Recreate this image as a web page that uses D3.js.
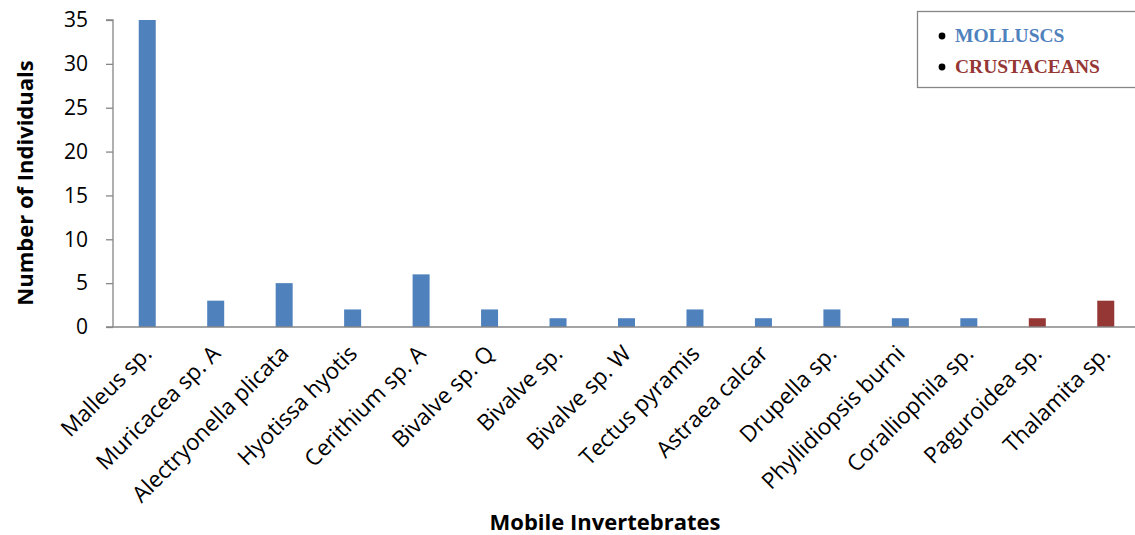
<!DOCTYPE html>
<html><head><meta charset="utf-8">
<script src="https://cdn.jsdelivr.net/npm/d3@7"></script>
<style>body{margin:0;background:#fff;} svg{display:block;}</style>
</head><body>
<script>
const categories = ["Malleus sp.","Muricacea sp. A","Alectryonella plicata","Hyotissa hyotis","Cerithium sp. A","Bivalve sp. Q","Bivalve sp.","Bivalve sp. W","Tectus pyramis","Astraea calcar","Drupella sp.","Phyllidiopsis burni","Coralliophila sp.","Paguroidea sp.","Thalamita sp."];
const values = [35,3,5,2,6,2,1,1,2,1,2,1,1,1,3];
const groups = ["MOLLUSCS","MOLLUSCS","MOLLUSCS","MOLLUSCS","MOLLUSCS","MOLLUSCS","MOLLUSCS","MOLLUSCS","MOLLUSCS","MOLLUSCS","MOLLUSCS","MOLLUSCS","MOLLUSCS","CRUSTACEANS","CRUSTACEANS"];
const legendLabels = ["MOLLUSCS","CRUSTACEANS"];
const yTicks = [0,5,10,15,20,25,30,35];

(function(){
const W=1135,H=535;
const colors = {MOLLUSCS:"#4F81BD", CRUSTACEANS:"#953735"};
const textColors = {MOLLUSCS:"#4F81BD", CRUSTACEANS:"#953735"};
const font = "'Open Sans', 'Noto Sans', sans-serif";

const svg = d3.select("body").append("svg").attr("width",W).attr("height",H);
const mLeft=113, mRight=1140, mTop=20, mBottom=327;
const x = d3.scaleBand().domain(categories).range([mLeft,mRight]).paddingInner(0).paddingOuter(0);
const y = d3.scaleLinear().domain([0,35]).range([mBottom,mTop]);

// y axis
const ya = svg.append("g").attr("transform",`translate(${mLeft},0)`)
  .call(d3.axisLeft(y).tickValues(yTicks).tickSize(7).tickPadding(18));
ya.select(".domain").attr("stroke","#868686").attr("stroke-width",1.3).attr("d",`M-7,${mTop}H0V${mBottom}`);
ya.selectAll(".tick line").attr("stroke","#868686").attr("stroke-width",1.3);
ya.selectAll(".tick text").attr("font-family",font).attr("font-size",21).attr("fill","#000");

// bars
const bw = 17;
svg.append("g").selectAll("rect").data(categories).join("rect")
  .attr("x",d=>x(d)+x.bandwidth()/2-bw/2)
  .attr("width",bw)
  .attr("y",(d,i)=>y(values[i]))
  .attr("height",(d,i)=>mBottom-y(values[i]))
  .attr("fill",(d,i)=>colors[groups[i]]);

// x axis
const xa = svg.append("g").attr("transform",`translate(0,${mBottom})`)
  .call(d3.axisBottom(x).tickSize(0).tickPadding(0));
xa.select(".domain").attr("stroke","#868686").attr("stroke-width",1.3).attr("d",`M${mLeft-7},0H${mRight}`);
xa.selectAll(".tick text")
  .attr("font-family",font).attr("font-size",22.5).attr("fill","#000")
  .attr("text-anchor","end").attr("dy",0)
  .attr("transform","translate(6,28) rotate(-45)");

// axis titles
svg.append("text").attr("transform",`translate(33,183) rotate(-90)`)
  .attr("text-anchor","middle").attr("font-family",font).attr("font-weight","bold")
  .attr("font-size",22).text("Number of Individuals");
svg.append("text").attr("x",605).attr("y",530)
  .attr("text-anchor","middle").attr("font-family",font).attr("font-weight","bold")
  .attr("font-size",22).text("Mobile Invertebrates");

// legend
const lg = svg.append("g");
lg.append("rect").attr("x",917.5).attr("y",11.5).attr("width",230).attr("height",76)
  .attr("fill","#fff").attr("stroke","#868686").attr("stroke-width",1.3);
legendLabels.forEach((l,i)=>{
  const yy = 42+i*31;
  lg.append("circle").attr("cx",942).attr("cy",yy-6).attr("r",3.4).attr("fill","#000");
  lg.append("text").attr("x",955).attr("y",yy).attr("font-family","'Liberation Serif', 'DejaVu Serif', serif")
    .attr("font-weight","bold").attr("font-size",19.5).attr("fill",textColors[l]).text(l);
});
})();
</script>
</body></html>
